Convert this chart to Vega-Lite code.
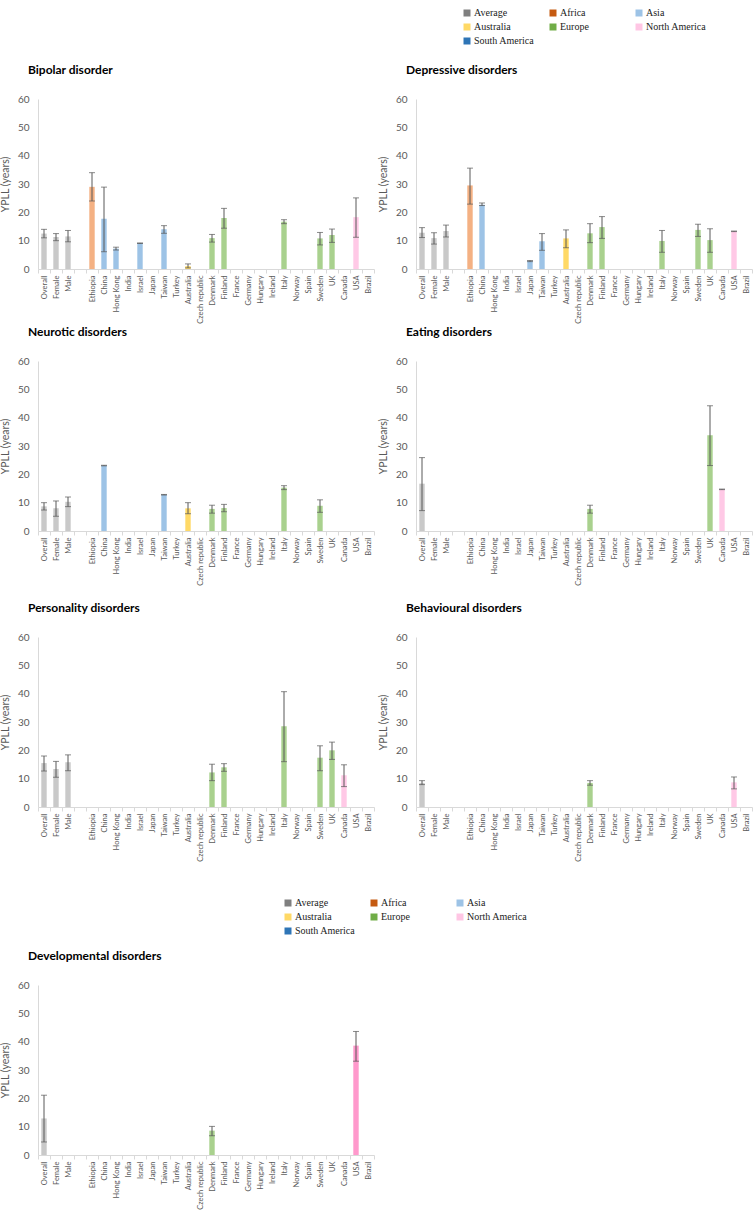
{
  "$schema": "https://vega.github.io/schema/vega-lite/v6.json",
  "padding": {"left": 0, "top": 0, "right": 0, "bottom": 0},
  "background": "white",
  "data": {"values": [
    {"d":"Bipolar disorder","c":"Overall","r":"Average","v":12.5,"lo":11,"hi":14},
    {"d":"Bipolar disorder","c":"Female","r":"Average","v":11.3,"lo":10,"hi":12.5},
    {"d":"Bipolar disorder","c":"Male","r":"Average","v":11.5,"lo":9.6,"hi":13.6},
    {"d":"Bipolar disorder","c":"Ethiopia","r":"Africa","v":29,"lo":24,"hi":34},
    {"d":"Bipolar disorder","c":"China","r":"Asia","v":17.7,"lo":6.1,"hi":28.9},
    {"d":"Bipolar disorder","c":"Hong Kong","r":"Asia","v":7.2,"lo":6.7,"hi":7.7},
    {"d":"Bipolar disorder","c":"Israel","r":"Asia","v":9.1,"lo":9.0,"hi":9.2},
    {"d":"Bipolar disorder","c":"Taiwan","r":"Asia","v":14,"lo":12.6,"hi":15.3},
    {"d":"Bipolar disorder","c":"Australia","r":"Australia","v":1,"lo":0.4,"hi":1.8},
    {"d":"Bipolar disorder","c":"Denmark","r":"Europe","v":10.9,"lo":9.5,"hi":12.2},
    {"d":"Bipolar disorder","c":"Finland","r":"Europe","v":18,"lo":14.4,"hi":21.4},
    {"d":"Bipolar disorder","c":"Italy","r":"Europe","v":16.7,"lo":16,"hi":17.4},
    {"d":"Bipolar disorder","c":"Sweden","r":"Europe","v":10.8,"lo":8.5,"hi":12.9},
    {"d":"Bipolar disorder","c":"UK","r":"Europe","v":12,"lo":9.4,"hi":14.1},
    {"d":"Bipolar disorder","c":"USA","r":"North America","v":18.3,"lo":11.2,"hi":25.1},
    {"d":"Depressive disorders","c":"Overall","r":"Average","v":12.8,"lo":11.1,"hi":14.6},
    {"d":"Depressive disorders","c":"Female","r":"Average","v":10.9,"lo":8.8,"hi":12.8},
    {"d":"Depressive disorders","c":"Male","r":"Average","v":13.4,"lo":11.3,"hi":15.5},
    {"d":"Depressive disorders","c":"Ethiopia","r":"Africa","v":29.5,"lo":22.9,"hi":35.6},
    {"d":"Depressive disorders","c":"China","r":"Asia","v":22.7,"lo":22.4,"hi":23.3},
    {"d":"Depressive disorders","c":"Japan","r":"Asia","v":2.8,"lo":2.6,"hi":3.0},
    {"d":"Depressive disorders","c":"Taiwan","r":"Asia","v":9.8,"lo":6.6,"hi":12.5},
    {"d":"Depressive disorders","c":"Australia","r":"Australia","v":10.8,"lo":7.5,"hi":13.8},
    {"d":"Depressive disorders","c":"Denmark","r":"Europe","v":12.6,"lo":9.3,"hi":16},
    {"d":"Depressive disorders","c":"Finland","r":"Europe","v":14.8,"lo":10.8,"hi":18.5},
    {"d":"Depressive disorders","c":"Italy","r":"Europe","v":9.9,"lo":5.9,"hi":13.6},
    {"d":"Depressive disorders","c":"Sweden","r":"Europe","v":13.8,"lo":11.5,"hi":15.8},
    {"d":"Depressive disorders","c":"UK","r":"Europe","v":10.2,"lo":5.9,"hi":14.2},
    {"d":"Depressive disorders","c":"USA","r":"North America","v":13.3,"lo":13.2,"hi":13.4},
    {"d":"Neurotic disorders","c":"Overall","r":"Average","v":8.7,"lo":7.4,"hi":10},
    {"d":"Neurotic disorders","c":"Female","r":"Average","v":8,"lo":5.2,"hi":10.6},
    {"d":"Neurotic disorders","c":"Male","r":"Average","v":10.3,"lo":8.6,"hi":12},
    {"d":"Neurotic disorders","c":"China","r":"Asia","v":23.1,"lo":23.0,"hi":23.2},
    {"d":"Neurotic disorders","c":"Taiwan","r":"Asia","v":12.8,"lo":12.7,"hi":12.9},
    {"d":"Neurotic disorders","c":"Australia","r":"Australia","v":8,"lo":6.1,"hi":10},
    {"d":"Neurotic disorders","c":"Denmark","r":"Europe","v":7.8,"lo":6.3,"hi":9.1},
    {"d":"Neurotic disorders","c":"Finland","r":"Europe","v":8.1,"lo":6.8,"hi":9.4},
    {"d":"Neurotic disorders","c":"Italy","r":"Europe","v":15.3,"lo":14.6,"hi":16},
    {"d":"Neurotic disorders","c":"Sweden","r":"Europe","v":8.9,"lo":6.6,"hi":11},
    {"d":"Eating disorders","c":"Overall","r":"Average","v":16.7,"lo":7.2,"hi":25.9},
    {"d":"Eating disorders","c":"Denmark","r":"Europe","v":7.8,"lo":6.3,"hi":9.1},
    {"d":"Eating disorders","c":"UK","r":"Europe","v":33.8,"lo":23.1,"hi":44.2},
    {"d":"Eating disorders","c":"Canada","r":"North America","v":14.7,"lo":14.6,"hi":14.8},
    {"d":"Personality disorders","c":"Overall","r":"Average","v":15.5,"lo":12.7,"hi":18},
    {"d":"Personality disorders","c":"Female","r":"Average","v":13.4,"lo":10.5,"hi":16.1},
    {"d":"Personality disorders","c":"Male","r":"Average","v":15.8,"lo":12.8,"hi":18.4},
    {"d":"Personality disorders","c":"Denmark","r":"Europe","v":12.2,"lo":9.3,"hi":15.1},
    {"d":"Personality disorders","c":"Finland","r":"Europe","v":14,"lo":12.6,"hi":15.3},
    {"d":"Personality disorders","c":"Italy","r":"Europe","v":28.5,"lo":16,"hi":40.7},
    {"d":"Personality disorders","c":"Sweden","r":"Europe","v":17.4,"lo":12.8,"hi":21.6},
    {"d":"Personality disorders","c":"UK","r":"Europe","v":20,"lo":16.8,"hi":22.9},
    {"d":"Personality disorders","c":"Canada","r":"North America","v":11.2,"lo":7.2,"hi":14.9},
    {"d":"Behavioural disorders","c":"Overall","r":"Average","v":8.5,"lo":7.9,"hi":9.3},
    {"d":"Behavioural disorders","c":"Denmark","r":"Europe","v":8.5,"lo":7.7,"hi":9.3},
    {"d":"Behavioural disorders","c":"USA","r":"North America","v":8.7,"lo":6.4,"hi":10.6},
    {"d":"Developmental disorders","c":"Overall","r":"Average","v":12.9,"lo":4.6,"hi":21.1},
    {"d":"Developmental disorders","c":"Denmark","r":"Europe","v":8.6,"lo":6.8,"hi":10.1},
    {"d":"Developmental disorders","c":"USA","r":"North America","v":38.6,"lo":33.1,"hi":43.6}
  ]},
  "columns": 2,
  "bounds": "flush",
  "spacing": {"row": 0, "column": 42},
  "resolve": {"scale": {"color": "independent", "fill": "independent"}, "legend": {"color": "independent", "fill": "independent"}},
  "concat": [
    {
      "width": 336, "height": 99,
      "data": {"values": [{"r":"Average"},{"r":"Africa"},{"r":"Asia"},{"r":"Australia"},{"r":"Europe"},{"r":"North America"},{"r":"South America"}]},
      "mark": {"type": "square", "opacity": 0},
      "encoding": {"fill": {"field": "r", "type": "nominal",
        "scale": {"domain": ["Average","Africa","Asia","Australia","Europe","North America","South America"], "range": ["#7f7f7f","#c55a11","#9dc3e6","#ffd966","#70ad47","#ffc6e4","#2e75b6"]},
        "legend": {"orient": "none", "legendX": 424, "legendY": 8, "direction": "horizontal", "columns": 3, "title": null, "symbolType": "square", "symbolSize": 49, "symbolOpacity": 1, "symbolStrokeWidth": 0, "labelFont": "Liberation Serif", "labelFontSize": 10, "labelColor": "#222222", "gridAlign": "all", "columnPadding": 13, "rowPadding": 4, "labelOffset": 2, "padding": 0}}}
    },
    {"width": 336, "height": 99, "data": {"values": [{"r": "x"}]}, "mark": {"type": "point", "opacity": 0}},
    {"width": 336, "height": 170, "title": "Bipolar disorder",
     "transform": [{"filter": "datum.d === 'Bipolar disorder'"}],
     "encoding": {"x": {"field": "c", "type": "nominal", "title": null, "scale": {"domain": ["Overall","Female","Male"," ","Ethiopia","China","Hong Kong","India","Israel","Japan","Taiwan","Turkey","Australia","Czech republic","Denmark","Finland","France","Germany","Hungary","Ireland","Italy","Norway","Spain","Sweden","UK","Canada","USA","Brazil"], "paddingInner": 0, "paddingOuter": 0}}},
     "layer": [
       {"mark": {"type": "bar", "width": {"band": 0.45}}, "encoding": {"y": {"field": "v", "type": "quantitative", "title": "YPLL (years)", "scale": {"domain": [0, 60], "nice": false}, "axis": {"values": [0,10,20,30,40,50,60], "labelOverlap": false}}, "color": {"field": "r", "type": "nominal", "legend": null, "scale": {"domain": ["Average","Africa","Asia","Australia","Europe","North America","South America"], "range": ["#c9c9c9","#f4b183","#9dc3e6","#ffd966","#a9d18e","#ffc9e6","#8fb4de"]}}}},
       {"mark": {"type": "rule", "color": "#595959", "strokeWidth": 1}, "encoding": {"y": {"field": "lo", "type": "quantitative", "title": "YPLL (years)", "axis": {"values": [0,10,20,30,40,50,60], "labelOverlap": false}}, "y2": {"field": "hi"}}},
       {"mark": {"type": "tick", "color": "#595959", "thickness": 1, "size": 6}, "encoding": {"y": {"field": "lo", "type": "quantitative", "title": "YPLL (years)", "axis": {"values": [0,10,20,30,40,50,60], "labelOverlap": false}}}},
       {"mark": {"type": "tick", "color": "#595959", "thickness": 1, "size": 6}, "encoding": {"y": {"field": "hi", "type": "quantitative", "title": "YPLL (years)", "axis": {"values": [0,10,20,30,40,50,60], "labelOverlap": false}}}}
     ]},
    {"width": 336, "height": 170, "title": "Depressive disorders",
     "transform": [{"filter": "datum.d === 'Depressive disorders'"}],
     "encoding": {"x": {"field": "c", "type": "nominal", "title": null, "scale": {"domain": ["Overall","Female","Male"," ","Ethiopia","China","Hong Kong","India","Israel","Japan","Taiwan","Turkey","Australia","Czech republic","Denmark","Finland","France","Germany","Hungary","Ireland","Italy","Norway","Spain","Sweden","UK","Canada","USA","Brazil"], "paddingInner": 0, "paddingOuter": 0}}},
     "layer": [
       {"mark": {"type": "bar", "width": {"band": 0.45}}, "encoding": {"y": {"field": "v", "type": "quantitative", "title": "YPLL (years)", "scale": {"domain": [0, 60], "nice": false}, "axis": {"values": [0,10,20,30,40,50,60], "labelOverlap": false}}, "color": {"field": "r", "type": "nominal", "legend": null, "scale": {"domain": ["Average","Africa","Asia","Australia","Europe","North America","South America"], "range": ["#c9c9c9","#f4b183","#9dc3e6","#ffd966","#a9d18e","#ffc9e6","#8fb4de"]}}}},
       {"mark": {"type": "rule", "color": "#595959", "strokeWidth": 1}, "encoding": {"y": {"field": "lo", "type": "quantitative", "title": "YPLL (years)", "axis": {"values": [0,10,20,30,40,50,60], "labelOverlap": false}}, "y2": {"field": "hi"}}},
       {"mark": {"type": "tick", "color": "#595959", "thickness": 1, "size": 6}, "encoding": {"y": {"field": "lo", "type": "quantitative", "title": "YPLL (years)", "axis": {"values": [0,10,20,30,40,50,60], "labelOverlap": false}}}},
       {"mark": {"type": "tick", "color": "#595959", "thickness": 1, "size": 6}, "encoding": {"y": {"field": "hi", "type": "quantitative", "title": "YPLL (years)", "axis": {"values": [0,10,20,30,40,50,60], "labelOverlap": false}}}}
     ]},
    {"width": 336, "height": 92, "data": {"values": [{"r": "x"}]}, "mark": {"type": "point", "opacity": 0}},
    {"width": 336, "height": 92, "data": {"values": [{"r": "x"}]}, "mark": {"type": "point", "opacity": 0}},
    {"width": 336, "height": 170, "title": "Neurotic disorders",
     "transform": [{"filter": "datum.d === 'Neurotic disorders'"}],
     "encoding": {"x": {"field": "c", "type": "nominal", "title": null, "scale": {"domain": ["Overall","Female","Male"," ","Ethiopia","China","Hong Kong","India","Israel","Japan","Taiwan","Turkey","Australia","Czech republic","Denmark","Finland","France","Germany","Hungary","Ireland","Italy","Norway","Spain","Sweden","UK","Canada","USA","Brazil"], "paddingInner": 0, "paddingOuter": 0}}},
     "layer": [
       {"mark": {"type": "bar", "width": {"band": 0.45}}, "encoding": {"y": {"field": "v", "type": "quantitative", "title": "YPLL (years)", "scale": {"domain": [0, 60], "nice": false}, "axis": {"values": [0,10,20,30,40,50,60], "labelOverlap": false}}, "color": {"field": "r", "type": "nominal", "legend": null, "scale": {"domain": ["Average","Africa","Asia","Australia","Europe","North America","South America"], "range": ["#c9c9c9","#f4b183","#9dc3e6","#ffd966","#a9d18e","#ffc9e6","#8fb4de"]}}}},
       {"mark": {"type": "rule", "color": "#595959", "strokeWidth": 1}, "encoding": {"y": {"field": "lo", "type": "quantitative", "title": "YPLL (years)", "axis": {"values": [0,10,20,30,40,50,60], "labelOverlap": false}}, "y2": {"field": "hi"}}},
       {"mark": {"type": "tick", "color": "#595959", "thickness": 1, "size": 6}, "encoding": {"y": {"field": "lo", "type": "quantitative", "title": "YPLL (years)", "axis": {"values": [0,10,20,30,40,50,60], "labelOverlap": false}}}},
       {"mark": {"type": "tick", "color": "#595959", "thickness": 1, "size": 6}, "encoding": {"y": {"field": "hi", "type": "quantitative", "title": "YPLL (years)", "axis": {"values": [0,10,20,30,40,50,60], "labelOverlap": false}}}}
     ]},
    {"width": 336, "height": 170, "title": "Eating disorders",
     "transform": [{"filter": "datum.d === 'Eating disorders'"}],
     "encoding": {"x": {"field": "c", "type": "nominal", "title": null, "scale": {"domain": ["Overall","Female","Male"," ","Ethiopia","China","Hong Kong","India","Israel","Japan","Taiwan","Turkey","Australia","Czech republic","Denmark","Finland","France","Germany","Hungary","Ireland","Italy","Norway","Spain","Sweden","UK","Canada","USA","Brazil"], "paddingInner": 0, "paddingOuter": 0}}},
     "layer": [
       {"mark": {"type": "bar", "width": {"band": 0.45}}, "encoding": {"y": {"field": "v", "type": "quantitative", "title": "YPLL (years)", "scale": {"domain": [0, 60], "nice": false}, "axis": {"values": [0,10,20,30,40,50,60], "labelOverlap": false}}, "color": {"field": "r", "type": "nominal", "legend": null, "scale": {"domain": ["Average","Africa","Asia","Australia","Europe","North America","South America"], "range": ["#c9c9c9","#f4b183","#9dc3e6","#ffd966","#a9d18e","#ffc9e6","#8fb4de"]}}}},
       {"mark": {"type": "rule", "color": "#595959", "strokeWidth": 1}, "encoding": {"y": {"field": "lo", "type": "quantitative", "title": "YPLL (years)", "axis": {"values": [0,10,20,30,40,50,60], "labelOverlap": false}}, "y2": {"field": "hi"}}},
       {"mark": {"type": "tick", "color": "#595959", "thickness": 1, "size": 6}, "encoding": {"y": {"field": "lo", "type": "quantitative", "title": "YPLL (years)", "axis": {"values": [0,10,20,30,40,50,60], "labelOverlap": false}}}},
       {"mark": {"type": "tick", "color": "#595959", "thickness": 1, "size": 6}, "encoding": {"y": {"field": "hi", "type": "quantitative", "title": "YPLL (years)", "axis": {"values": [0,10,20,30,40,50,60], "labelOverlap": false}}}}
     ]},
    {"width": 336, "height": 106, "data": {"values": [{"r": "x"}]}, "mark": {"type": "point", "opacity": 0}},
    {"width": 336, "height": 106, "data": {"values": [{"r": "x"}]}, "mark": {"type": "point", "opacity": 0}},
    {"width": 336, "height": 170, "title": "Personality disorders",
     "transform": [{"filter": "datum.d === 'Personality disorders'"}],
     "encoding": {"x": {"field": "c", "type": "nominal", "title": null, "scale": {"domain": ["Overall","Female","Male"," ","Ethiopia","China","Hong Kong","India","Israel","Japan","Taiwan","Turkey","Australia","Czech republic","Denmark","Finland","France","Germany","Hungary","Ireland","Italy","Norway","Spain","Sweden","UK","Canada","USA","Brazil"], "paddingInner": 0, "paddingOuter": 0}}},
     "layer": [
       {"mark": {"type": "bar", "width": {"band": 0.45}}, "encoding": {"y": {"field": "v", "type": "quantitative", "title": "YPLL (years)", "scale": {"domain": [0, 60], "nice": false}, "axis": {"values": [0,10,20,30,40,50,60], "labelOverlap": false}}, "color": {"field": "r", "type": "nominal", "legend": null, "scale": {"domain": ["Average","Africa","Asia","Australia","Europe","North America","South America"], "range": ["#c9c9c9","#f4b183","#9dc3e6","#ffd966","#a9d18e","#ffc9e6","#8fb4de"]}}}},
       {"mark": {"type": "rule", "color": "#595959", "strokeWidth": 1}, "encoding": {"y": {"field": "lo", "type": "quantitative", "title": "YPLL (years)", "axis": {"values": [0,10,20,30,40,50,60], "labelOverlap": false}}, "y2": {"field": "hi"}}},
       {"mark": {"type": "tick", "color": "#595959", "thickness": 1, "size": 6}, "encoding": {"y": {"field": "lo", "type": "quantitative", "title": "YPLL (years)", "axis": {"values": [0,10,20,30,40,50,60], "labelOverlap": false}}}},
       {"mark": {"type": "tick", "color": "#595959", "thickness": 1, "size": 6}, "encoding": {"y": {"field": "hi", "type": "quantitative", "title": "YPLL (years)", "axis": {"values": [0,10,20,30,40,50,60], "labelOverlap": false}}}}
     ]},
    {"width": 336, "height": 170, "title": "Behavioural disorders",
     "transform": [{"filter": "datum.d === 'Behavioural disorders'"}],
     "encoding": {"x": {"field": "c", "type": "nominal", "title": null, "scale": {"domain": ["Overall","Female","Male"," ","Ethiopia","China","Hong Kong","India","Israel","Japan","Taiwan","Turkey","Australia","Czech republic","Denmark","Finland","France","Germany","Hungary","Ireland","Italy","Norway","Spain","Sweden","UK","Canada","USA","Brazil"], "paddingInner": 0, "paddingOuter": 0}}},
     "layer": [
       {"mark": {"type": "bar", "width": {"band": 0.45}}, "encoding": {"y": {"field": "v", "type": "quantitative", "title": "YPLL (years)", "scale": {"domain": [0, 60], "nice": false}, "axis": {"values": [0,10,20,30,40,50,60], "labelOverlap": false}}, "color": {"field": "r", "type": "nominal", "legend": null, "scale": {"domain": ["Average","Africa","Asia","Australia","Europe","North America","South America"], "range": ["#c9c9c9","#f4b183","#9dc3e6","#ffd966","#a9d18e","#ffc9e6","#8fb4de"]}}}},
       {"mark": {"type": "rule", "color": "#595959", "strokeWidth": 1}, "encoding": {"y": {"field": "lo", "type": "quantitative", "title": "YPLL (years)", "axis": {"values": [0,10,20,30,40,50,60], "labelOverlap": false}}, "y2": {"field": "hi"}}},
       {"mark": {"type": "tick", "color": "#595959", "thickness": 1, "size": 6}, "encoding": {"y": {"field": "lo", "type": "quantitative", "title": "YPLL (years)", "axis": {"values": [0,10,20,30,40,50,60], "labelOverlap": false}}}},
       {"mark": {"type": "tick", "color": "#595959", "thickness": 1, "size": 6}, "encoding": {"y": {"field": "hi", "type": "quantitative", "title": "YPLL (years)", "axis": {"values": [0,10,20,30,40,50,60], "labelOverlap": false}}}}
     ]},
    {
      "width": 336, "height": 178,
      "data": {"values": [{"r":"Average"},{"r":"Africa"},{"r":"Asia"},{"r":"Australia"},{"r":"Europe"},{"r":"North America"},{"r":"South America"}]},
      "mark": {"type": "square", "opacity": 0},
      "encoding": {"fill": {"field": "r", "type": "nominal",
        "scale": {"domain": ["Average","Africa","Asia","Australia","Europe","North America","South America"], "range": ["#7f7f7f","#c55a11","#9dc3e6","#ffd966","#70ad47","#ffc6e4","#2e75b6"]},
        "legend": {"orient": "none", "legendX": 245, "legendY": 91, "direction": "horizontal", "columns": 3, "title": null, "symbolType": "square", "symbolSize": 49, "symbolOpacity": 1, "symbolStrokeWidth": 0, "labelFont": "Liberation Serif", "labelFontSize": 10, "labelColor": "#222222", "gridAlign": "all", "columnPadding": 13, "rowPadding": 4, "labelOffset": 2, "padding": 0}}}
    },
    {"width": 336, "height": 178, "data": {"values": [{"r": "x"}]}, "mark": {"type": "point", "opacity": 0}},
    {"width": 336, "height": 170, "title": "Developmental disorders",
     "transform": [{"filter": "datum.d === 'Developmental disorders'"}],
     "encoding": {"x": {"field": "c", "type": "nominal", "title": null, "scale": {"domain": ["Overall","Female","Male"," ","Ethiopia","China","Hong Kong","India","Israel","Japan","Taiwan","Turkey","Australia","Czech republic","Denmark","Finland","France","Germany","Hungary","Ireland","Italy","Norway","Spain","Sweden","UK","Canada","USA","Brazil"], "paddingInner": 0, "paddingOuter": 0}}},
     "layer": [
       {"mark": {"type": "bar", "width": {"band": 0.45}}, "encoding": {"y": {"field": "v", "type": "quantitative", "title": "YPLL (years)", "scale": {"domain": [0, 60], "nice": false}, "axis": {"values": [0,10,20,30,40,50,60], "labelOverlap": false}}, "color": {"field": "r", "type": "nominal", "legend": null, "scale": {"domain": ["Average","Africa","Asia","Australia","Europe","North America","South America"], "range": ["#c9c9c9","#f4b183","#9dc3e6","#ffd966","#a9d18e","#ff99cc","#8fb4de"]}}}},
       {"mark": {"type": "rule", "color": "#595959", "strokeWidth": 1}, "encoding": {"y": {"field": "lo", "type": "quantitative", "title": "YPLL (years)", "axis": {"values": [0,10,20,30,40,50,60], "labelOverlap": false}}, "y2": {"field": "hi"}}},
       {"mark": {"type": "tick", "color": "#595959", "thickness": 1, "size": 6}, "encoding": {"y": {"field": "lo", "type": "quantitative", "title": "YPLL (years)", "axis": {"values": [0,10,20,30,40,50,60], "labelOverlap": false}}}},
       {"mark": {"type": "tick", "color": "#595959", "thickness": 1, "size": 6}, "encoding": {"y": {"field": "hi", "type": "quantitative", "title": "YPLL (years)", "axis": {"values": [0,10,20,30,40,50,60], "labelOverlap": false}}}}
     ]}
  ],
  "config": {
    "view": {"stroke": null},
    "font": "Lato",
    "axis": {"grid": false},
    "axisX": {"domainColor": "#d9d9d9", "tickColor": "#d9d9d9", "tickSize": 4, "tickBand": "extent", "labelAngle": 270, "labelFontSize": 7.5, "labelColor": "#595959", "labelPadding": 2, "labelFont": "Lato"},
    "axisY": {"domainColor": "#d9d9d9", "ticks": false, "labelOverlap": false, "labelColor": "#595959", "labelFontSize": 10, "labelPadding": 9, "labelFont": "Lato", "titleColor": "#595959", "titleFontSize": 10.5, "titleFontWeight": "normal", "titleFont": "Lato", "titlePadding": 7},
    "title": {"anchor": "start", "frame": "group", "fontSize": 12, "fontWeight": "bold", "font": "Lato", "color": "#000000", "offset": 17, "dx": -10}
  }
}
